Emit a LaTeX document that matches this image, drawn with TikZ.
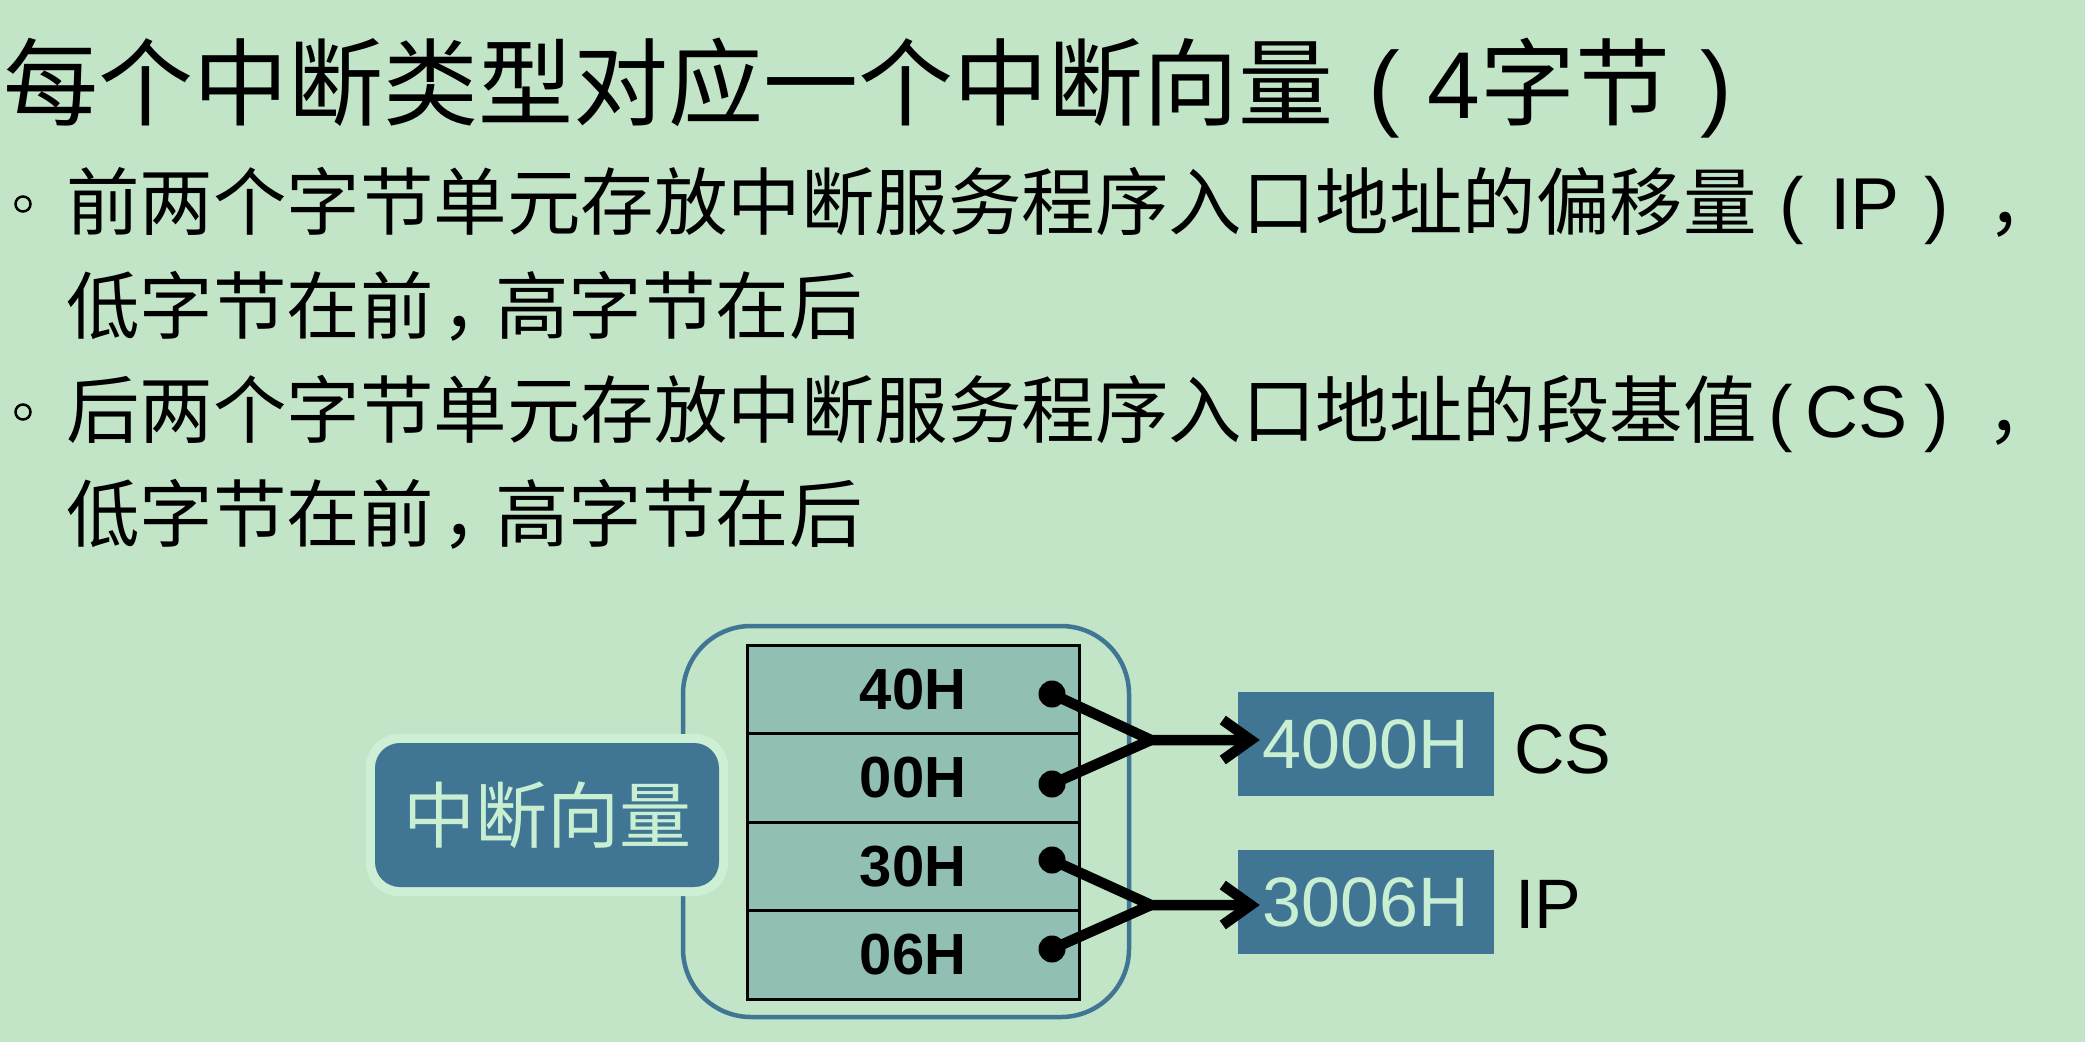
\documentclass[tikz,border=0pt]{standalone}
\usepackage{fontspec}
\setmainfont{Liberation Sans}
\newfontfamily\cjk{Noto Sans CJK SC}
\usetikzlibrary{arrows.meta,calc}

\definecolor{bg}{HTML}{C3E5C7}
\definecolor{cellfill}{HTML}{91BFB4}
\definecolor{steel}{HTML}{407694}
\definecolor{halo}{HTML}{CDEFD4}
\definecolor{paletext}{HTML}{C9EFD2}

\begin{document}
\begin{tikzpicture}[x=1pt,y=-1pt,
  textline/.style={anchor=base west, inner sep=0pt, font=\fontsize{73.5}{80}\selectfont},
  bulletmark/.style={circle, draw=black, line width=2.5pt, minimum size=15pt, inner sep=0pt},
  cell/.style={draw=black, line width=3pt, fill=cellfill, minimum width=332pt,
    minimum height=88.5pt, inner sep=0pt, font=\fontsize{58}{60}\selectfont\bfseries},
  dot/.style={circle, fill=black, inner sep=0pt, minimum size=27pt},
  wire/.style={line width=10.5pt, line cap=round, line join=round},
  pointer/.style={wire, -{Straight Barb[length=28pt,width=40pt]}},
  valbox/.style={fill=steel, text=paletext, minimum width=256pt, minimum height=104pt,
    inner sep=0pt, font=\fontsize{70}{72}\selectfont},
  tag/.style={anchor=base west, inner sep=0pt, font=\fontsize{70}{72}\selectfont}
]
% page
\fill[bg] (0,0) rectangle (2085,1042);
\useasboundingbox (0,0) rectangle (2085,1042);

% heading and bullet text
\node[anchor=base west, inner sep=0pt, font=\fontsize{95}{100}\selectfont] (title) at (3,118)
  {{\cjk 每个中断类型对应一个中断向量}\hspace{35pt}(\hspace{28pt}4{\cjk 字节}\hspace{30pt})};

\node[bulletmark] (b1) at (23,204) {};
\node[textline] (l1) at (66,229)
  {{\cjk 前两个字节单元存放中断服务程序入口地址的偏移量}\hspace{23pt}(\hspace{26pt}IP\hspace{25pt}){\cjk\hspace{38pt}，}};
\node[textline] (l2) at (66,333)
  {\cjk 低字节在前\hspace{8pt}，\hspace{-20pt}高字节在后};

\node[bulletmark] (b2) at (23,412) {};
\node[textline] (l3) at (66,437)
  {{\cjk 后两个字节单元存放中断服务程序入口地址的段基值}\hspace{12pt}(\hspace{12pt}CS\hspace{17pt}){\cjk\hspace{38pt}，}};
\node[textline] (l4) at (66,541)
  {\cjk 低字节在前\hspace{8pt}，\hspace{-20pt}高字节在后};

% vector frame
\node[draw=steel, line width=4.5pt, rounded corners=68pt, minimum width=446pt,
  minimum height=391pt, inner sep=0pt] (frame) at (906,821.5) {};

% label with glow
\node[fill=halo, rounded corners=33pt, minimum width=362pt, minimum height=162pt,
  inner sep=0pt] (glow) at (547,815) {};
\node[fill=steel, rounded corners=25pt, minimum width=344pt, minimum height=144pt,
  inner sep=0pt, text=paletext, font=\cjk\fontsize{72}{74}\selectfont] (iv) at (547,815) {中断向量};

% four byte cells
\node[cell] (c1) at (913,689.25) {40H};
\node[cell] (c2) at (913,777.75) {00H};
\node[cell] (c3) at (913,866.25) {30H};
\node[cell] (c4) at (913,954.75) {06H};

% pointers
\node[dot] (d1) at (1052,694) {};
\node[dot] (d2) at (1052,784) {};
\node[dot] (d3) at (1052,860) {};
\node[dot] (d4) at (1052,949) {};
\coordinate (j1) at (1151,740);
\coordinate (j2) at (1151,905);

% target values
\node[valbox] (v1) at (1366,744) {4000H};
\node[valbox] (v2) at (1366,902) {3006H};
\coordinate (t1) at ($(v1.west |- j1)+(22,0)$);
\coordinate (t2) at ($(v2.west |- j2)+(22,0)$);

\draw[wire] (d2.center) -- (j1);
\draw[pointer] (d1.center) -- (j1) -- (t1);
\draw[wire] (d4.center) -- (j2);
\draw[pointer] (d3.center) -- (j2) -- (t2);

\node[tag] (cs) at (1514,773) {CS};
\node[tag] (ip) at (1515,928) {IP};
\end{tikzpicture}
\end{document}
